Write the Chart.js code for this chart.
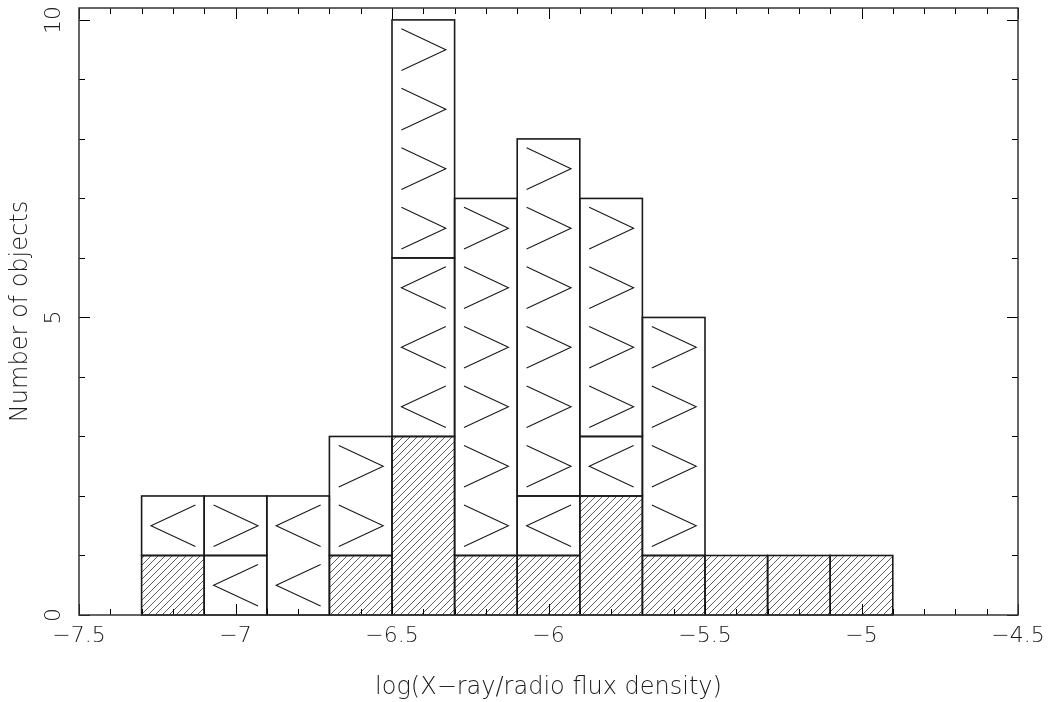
<!DOCTYPE html>
<html>
<head>
<meta charset="utf-8">
<script src="https://cdn.jsdelivr.net/npm/chart.js@4/dist/chart.umd.min.js"></script>
<style>
  html, body { margin: 0; padding: 0; background: #fff; }
  #wrap { width: 1049px; height: 702px; position: relative; }
</style>
</head>
<body>
<div id="wrap"><canvas id="histChart"></canvas></div>
<script>
// ── Dados do histograma (bins de 0.2 em log) ─────────────────────
const binCentres   = [-7.2, -7.0, -6.8, -6.6, -6.4, -6.2, -6.0, -5.8, -5.6, -5.4, -5.2, -5.0];
const detections   = [1, 0, 0, 1, 3, 1, 1, 2, 1, 1, 1, 1];   // hachurado
const upperLimits  = [1, 1, 2, 0, 3, 0, 1, 1, 0, 0, 0, 0];   // "<"
const lowerLimits  = [0, 1, 0, 2, 4, 6, 6, 4, 4, 0, 0, 0];   // ">"
const xTickLabels  = [-7.5, -7, -6.5, -6, -5.5, -5, -4.5];
const yTickLabels  = [0, 5, 10];

const FONT = { family: '"DejaVu Sans", sans-serif', size: 22, weight: 200 };
const TITLE_FONT = { family: '"DejaVu Sans", sans-serif', size: 24, weight: 200 };
const INK = '#1a1a1a';

function toPoints(counts) {
    return binCentres.map((x, i) => ({ x, y: counts[i] > 0 ? counts[i] : null }));
}

function fmtMinus(v) {
    return String(v).replace('-', '\u2212');
}

// padrão de hachura "/"
function hatchPattern() {
    const s = 7;
    const c = document.createElement('canvas');
    c.width = s; c.height = s;
    const g = c.getContext('2d');
    g.strokeStyle = '#2a2a2a';
    g.lineWidth = 0.75;
    g.beginPath();
    g.moveTo(-1, s + 1); g.lineTo(s + 1, -1);
    g.moveTo(-1, 1); g.lineTo(1, -1);
    g.moveTo(s - 1, s + 1); g.lineTo(s + 1, s - 1);
    g.stroke();
    return g.createPattern(c, 'repeat');
}

// ── Plugin: símbolos < >, contornos, ticks internos e moldura ────
const histDecor = {
    id: 'histDecor',
    afterDatasetsDraw(chart) {
        const ctx = chart.ctx;
        const area = chart.chartArea;
        ctx.save();

        chart.data.datasets.forEach((ds, i) => {
            const meta = chart.getDatasetMeta(i);
            meta.data.forEach((bar, j) => {
                const n = ds.counts[j];
                if (!n) return;
                const left = bar.x - bar.width / 2;
                const right = bar.x + bar.width / 2;
                // símbolos de limite, um por unidade
                if (ds.symbol) {
                    const unit = (bar.base - bar.y) / n;
                    const hw = bar.width * 0.355;
                    const hh = unit * 0.35;
                    const cx = left + bar.width * 0.505;
                    ctx.strokeStyle = INK;
                    ctx.lineWidth = 1.1;
                    for (let k = 0; k < n; k++) {
                        const cy = bar.base - unit * (k + 0.5);
                        ctx.beginPath();
                        if (ds.symbol === '<') {
                            ctx.moveTo(cx + hw, cy - hh);
                            ctx.lineTo(cx - hw, cy);
                            ctx.lineTo(cx + hw, cy + hh);
                        } else {
                            ctx.moveTo(cx - hw, cy - hh);
                            ctx.lineTo(cx + hw, cy);
                            ctx.lineTo(cx - hw, cy + hh);
                        }
                        ctx.stroke();
                    }
                }
                ctx.strokeStyle = INK;
                ctx.lineWidth = 1.6;
                ctx.strokeRect(left, bar.y, right - left, bar.base - bar.y);
            });
        });

        // ticks internos nos quatro lados
        const xs = chart.scales.x, ys = chart.scales.y;
        ctx.strokeStyle = '#000';
        ctx.lineWidth = 1;
        ctx.beginPath();
        xs.ticks.forEach(t => {
            const px = Math.round(xs.getPixelForValue(t.value)) + 0.5;
            const major = xTickLabels.some(v => Math.abs(v - t.value) < 1e-6);
            const len = major ? 11 : 6;
            ctx.moveTo(px, area.bottom); ctx.lineTo(px, area.bottom - len);
            ctx.moveTo(px, area.top); ctx.lineTo(px, area.top + len);
        });
        ys.ticks.forEach(t => {
            const py = Math.round(ys.getPixelForValue(t.value)) + 0.5;
            const len = yTickLabels.includes(t.value) ? 11 : 6;
            ctx.moveTo(area.left, py); ctx.lineTo(area.left + len, py);
            ctx.moveTo(area.right, py); ctx.lineTo(area.right - len, py);
        });
        ctx.stroke();

        // moldura
        ctx.strokeStyle = '#333';
        ctx.lineWidth = 1.5;
        ctx.strokeRect(area.left, area.top, area.right - area.left, area.bottom - area.top);

        // rótulos do eixo y (rotacionados)
        ctx.fillStyle = INK;
        ctx.font = `${FONT.weight} ${FONT.size}px ${FONT.family}`;
        ctx.textAlign = 'center';
        ctx.textBaseline = 'middle';
        yTickLabels.forEach(v => {
            const py = ys.getPixelForValue(v);
            ctx.save();
            ctx.translate(area.left - 25, py);
            ctx.rotate(-Math.PI / 2);
            ctx.fillText(fmtMinus(v), 0, 0);
            ctx.restore();
        });
        ctx.restore();
    }
};

const ctx = document.getElementById('histChart').getContext('2d');
new Chart(ctx, {
    type: 'bar',
    data: {
        datasets: [
            { label: 'Detecções', data: toPoints(detections), counts: detections,
              backgroundColor: hatchPattern() },
            { label: 'Limites superiores', data: toPoints(upperLimits), counts: upperLimits,
              symbol: '<', backgroundColor: '#fff' },
            { label: 'Limites inferiores', data: toPoints(lowerLimits), counts: lowerLimits,
              symbol: '>', backgroundColor: '#fff' }
        ]
    },
    options: {
        responsive: true,
        maintainAspectRatio: false,
        animation: false,
        devicePixelRatio: 1,
        layout: { padding: { left: 0, top: 8, right: 31, bottom: 0 } },
        datasets: {
            bar: { borderWidth: 0, barThickness: 'flex', categoryPercentage: 1, barPercentage: 1, inflateAmount: 0 }
        },
        plugins: { legend: { display: false }, tooltip: { enabled: false } },
        scales: {
            x: {
                type: 'linear',
                stacked: true,
                offset: false,
                min: -7.5,
                max: -4.5,
                grid: { display: false, drawTicks: false, offset: false },
                border: { display: false },
                ticks: {
                    stepSize: 0.1,
                    autoSkip: false,
                    includeBounds: false,
                    maxRotation: 0,
                    padding: 8,
                    color: INK,
                    font: FONT,
                    callback: v => xTickLabels.some(t => Math.abs(t - v) < 1e-6) ? fmtMinus(Math.round(v * 10) / 10) : ''
                },
                title: {
                    display: true,
                    text: 'log(X\u2212ray/radio flux density)',
                    color: INK,
                    font: TITLE_FONT,
                    padding: { top: 0, bottom: 0 }
                },
                afterFit: s => { s.height = 87; s.paddingLeft = 0; s.paddingRight = 0; }
            },
            y: {
                stacked: true,
                min: 0,
                max: 10.2,
                grid: { display: false, drawTicks: false },
                border: { display: false },
                ticks: { stepSize: 1, includeBounds: false, display: false },
                title: {
                    display: true,
                    text: 'Number of objects',
                    color: INK,
                    font: TITLE_FONT,
                    padding: { top: 6, bottom: 0 }
                },
                afterFit: s => { s.width = 79; }
            }
        }
    },
    plugins: [histDecor]
});
</script>
</body>
</html>
